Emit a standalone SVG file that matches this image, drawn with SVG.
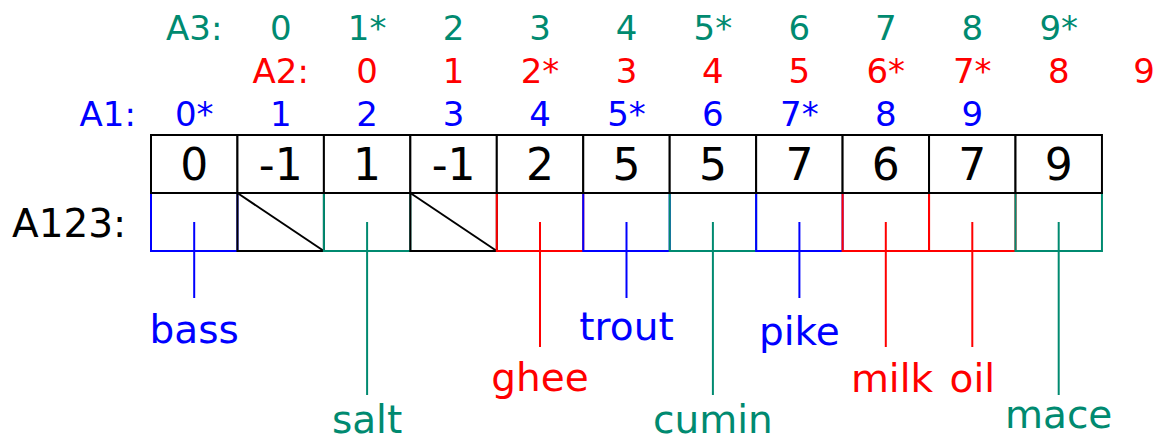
<svg xmlns="http://www.w3.org/2000/svg" width="1155" height="443" viewBox="0 0 1155 443">
<style>
text{font-family:"DejaVu Sans","Liberation Sans",sans-serif;text-anchor:middle}
.hd{font-size:34px}
.big{font-size:44px;fill:#000}
.lbl{font-size:39px}
.b{fill:#0000ff}.r{fill:#ff0000}.g{fill:#008a70}
.cell{fill:#fff;stroke:#000;stroke-width:2}
.sb{fill:none;stroke:#0000ff;stroke-width:2}
.sr{fill:none;stroke:#ff0000;stroke-width:2}
.sg{fill:none;stroke:#008a70;stroke-width:2}
.sk{fill:none;stroke:#000;stroke-width:2}
</style>
<rect width="1155" height="443" fill="#fff"/>
<g id="headerA3" class="hd g">
<text x="194.2" y="40">A3:</text>
<text x="280.7" y="40">0</text><text x="367.1" y="40">1*</text><text x="453.6" y="40">2</text><text x="540" y="40">3</text><text x="626.5" y="40">4</text><text x="712.9" y="40">5*</text><text x="799.4" y="40">6</text><text x="885.8" y="40">7</text><text x="972.3" y="40">8</text><text x="1058.7" y="40">9*</text>
</g>
<g id="headerA2" class="hd r">
<text x="280.7" y="83">A2:</text>
<text x="367.1" y="83">0</text><text x="453.6" y="83">1</text><text x="540" y="83">2*</text><text x="626.5" y="83">3</text><text x="712.9" y="83">4</text><text x="799.4" y="83">5</text><text x="885.8" y="83">6*</text><text x="972.3" y="83">7*</text><text x="1058.7" y="83">8</text><text x="1144" y="83">9</text>
</g>
<g id="headerA1" class="hd b">
<text x="107.8" y="126">A1:</text>
<text x="194.2" y="126">0*</text><text x="280.7" y="126">1</text><text x="367.1" y="126">2</text><text x="453.6" y="126">3</text><text x="540" y="126">4</text><text x="626.5" y="126">5*</text><text x="712.9" y="126">6</text><text x="799.4" y="126">7*</text><text x="885.8" y="126">8</text><text x="972.3" y="126">9</text>
</g>
<g id="rowlabel"><text x="12" y="237" style="font-size:39px;text-anchor:start" fill="#000">A123:</text></g>
<g id="bottomcells">
<rect class="sb" x="151" y="193" width="86.45" height="58"/>
<rect class="sk" x="237.45" y="193" width="86.45" height="58"/>
<line class="sk" x1="237.45" y1="193" x2="323.9" y2="251"/>
<rect class="sg" x="323.9" y="193" width="86.45" height="58"/>
<rect class="sk" x="410.35" y="193" width="86.45" height="58"/>
<line class="sk" x1="410.35" y1="193" x2="496.8" y2="251"/>
<rect class="sr" x="496.8" y="193" width="86.45" height="58"/>
<rect class="sb" x="583.25" y="193" width="86.45" height="58"/>
<rect class="sg" x="669.7" y="193" width="86.45" height="58"/>
<rect class="sb" x="756.15" y="193" width="86.45" height="58"/>
<rect class="sr" x="842.6" y="193" width="86.45" height="58"/>
<rect class="sr" x="929.05" y="193" width="86.45" height="58"/>
<rect class="sg" x="1015.5" y="193" width="86.45" height="58"/>
</g>
<g id="topcells">
<rect class="cell" x="151" y="135" width="86.45" height="58"/>
<rect class="cell" x="237.45" y="135" width="86.45" height="58"/>
<rect class="cell" x="323.9" y="135" width="86.45" height="58"/>
<rect class="cell" x="410.35" y="135" width="86.45" height="58"/>
<rect class="cell" x="496.8" y="135" width="86.45" height="58"/>
<rect class="cell" x="583.25" y="135" width="86.45" height="58"/>
<rect class="cell" x="669.7" y="135" width="86.45" height="58"/>
<rect class="cell" x="756.15" y="135" width="86.45" height="58"/>
<rect class="cell" x="842.6" y="135" width="86.45" height="58"/>
<rect class="cell" x="929.05" y="135" width="86.45" height="58"/>
<rect class="cell" x="1015.5" y="135" width="86.45" height="58"/>
<g class="big">
<text x="194.2" y="180">0</text><text x="280.7" y="180">-1</text><text x="367.1" y="180">1</text><text x="453.6" y="180">-1</text><text x="540" y="180">2</text><text x="626.5" y="180">5</text><text x="712.9" y="180">5</text><text x="799.4" y="180">7</text><text x="885.8" y="180">6</text><text x="972.3" y="180">7</text><text x="1058.7" y="180">9</text>
</g>
</g>
<g id="connectors">
<line class="sb" x1="194.2" y1="222" x2="194.2" y2="298"/>
<line class="sg" x1="367.1" y1="222" x2="367.1" y2="395"/>
<line class="sr" x1="540" y1="222" x2="540" y2="347"/>
<line class="sb" x1="626.5" y1="222" x2="626.5" y2="298"/>
<line class="sg" x1="712.9" y1="222" x2="712.9" y2="395"/>
<line class="sb" x1="799.4" y1="222" x2="799.4" y2="298"/>
<line class="sr" x1="885.8" y1="222" x2="885.8" y2="347"/>
<line class="sr" x1="972.3" y1="222" x2="972.3" y2="347"/>
<line class="sg" x1="1058.7" y1="222" x2="1058.7" y2="395"/>
</g>
<g id="bass" class="lbl b"><text x="194.2" y="343">bass</text></g>
<g id="salt" class="lbl g"><text x="367.1" y="433">salt</text></g>
<g id="ghee" class="lbl r"><text x="540" y="391">ghee</text></g>
<g id="trout" class="lbl b"><text x="626.5" y="340">trout</text></g>
<g id="cumin" class="lbl g"><text x="712.9" y="433">cumin</text></g>
<g id="pike" class="lbl b"><text x="799.4" y="345">pike</text></g>
<g id="milk" class="lbl r"><text x="892" y="392">milk</text></g>
<g id="oil" class="lbl r"><text x="972.3" y="392">oil</text></g>
<g id="mace" class="lbl g"><text x="1058.7" y="428">mace</text></g>
</svg>
